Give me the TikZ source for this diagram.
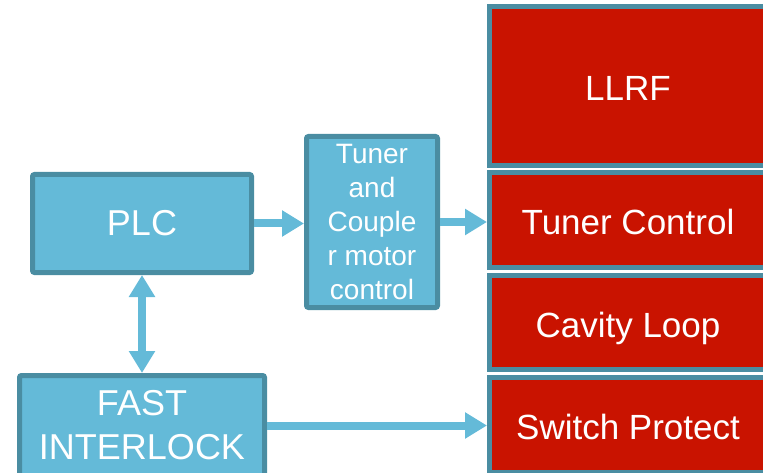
\documentclass[tikz,border=0pt]{standalone}
\usepackage{fontspec}
\setmainfont{Liberation Sans}
\usetikzlibrary{arrows.meta}
\definecolor{boxblue}{HTML}{64BAD8}
\definecolor{boxedge}{HTML}{4A8DA2}
\definecolor{boxred}{HTML}{C91300}

\begin{document}
\begin{tikzpicture}[x=1pt,y=-1pt,
  bluebox/.style={draw=boxedge, line width=5pt, fill=boxblue, rounded corners=2pt, text=white, align=center, inner sep=0pt},
  redbox/.style={draw=boxedge, line width=5pt, fill=boxred, text=white, align=center, inner sep=0pt, minimum width=277pt, text height=34pt, text depth=5pt, font=\fontsize{35}{40}\selectfont},
  fatarrow/.style={draw=boxblue, line width=8pt, -{Triangle[width=25pt,length=22pt]}},
  fatboth/.style={draw=boxblue, line width=8pt, {Triangle[width=25pt,length=22pt]}-{Triangle[width=25pt,length=22pt]}}]
\useasboundingbox (0,0) rectangle (763,473);
\clip (0,0) rectangle (763,473);

% left blocks
\node[bluebox, minimum width=219pt, minimum height=98pt, font=\fontsize{36}{40}\selectfont] (plc) at (142,223.5) {PLC};
\node[bluebox, minimum width=131pt, minimum height=171pt, font=\fontsize{28}{34}\selectfont] (tuner) at (372,222) {Tuner\\and\\Couple\\r motor\\control};
\node[bluebox, minimum width=245pt, minimum height=100pt, font=\fontsize{36}{44}\selectfont] (fast) at (142,425.5) {FAST\\INTERLOCK};

% red column
\node[redbox, minimum height=159pt] (llrf) at (628,86) {LLRF};
\node[redbox, minimum height=95pt] (tunerctl) at (628,220) {Tuner Control};
\node[redbox, minimum height=94pt] (cavity) at (628,322.5) {Cavity Loop};
\node[redbox, minimum height=95pt] (switch) at (628,425) {Switch Protect};

% arrows
\draw[fatarrow] (plc.east) -- (plc.east -| tuner.west);
\draw[fatarrow] (tuner.east) -- (tuner.east -| tunerctl.west);
\draw[fatboth] (plc.south) -- (fast.north);
\draw[fatarrow] (fast.east) -- (fast.east -| switch.west);

\end{tikzpicture}
\end{document}
